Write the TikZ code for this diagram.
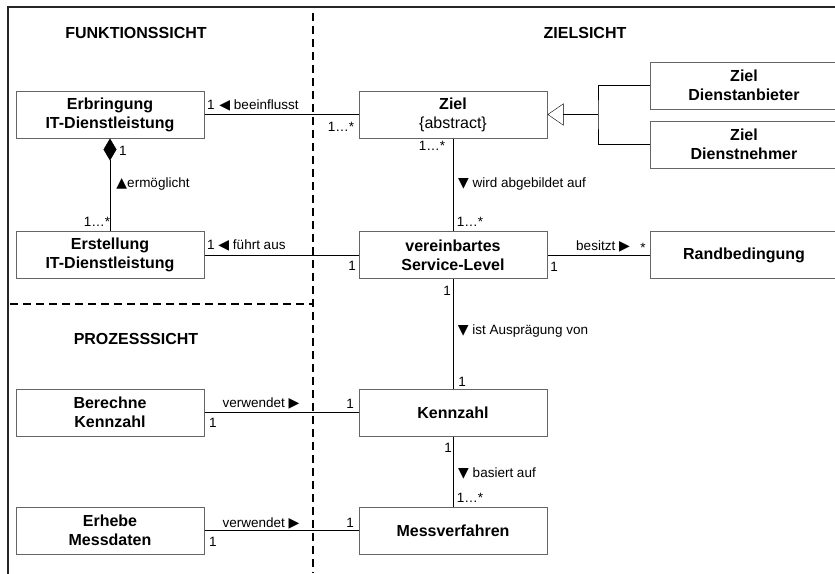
\documentclass[tikz,border=0pt]{standalone}
\usepackage{fontspec}
\setmainfont{Liberation Sans}
\newfontfamily\symfont{DejaVu Sans}
\usepackage{tikz}
\usetikzlibrary{arrows.meta}
\definecolor{rahmen}{gray}{0.4}
\def\pfeilL{{\symfont\fontsize{14}{15}\selectfont ◀}}
\def\pfeilR{{\symfont\fontsize{14}{15}\selectfont ▶}}
\def\pfeilO{{\symfont\fontsize{14}{15}\selectfont ▲}}
\def\pfeilU{{\symfont\fontsize{14}{15}\selectfont ▼}}
\tikzset{
klasse/.style={draw=rahmen, line width=1pt, minimum width=188pt, minimum height=47pt,
  inner sep=0pt, align=center, font=\fontsize{16}{19}\selectfont\bfseries},
rolle/.style={inner sep=0pt, font=\fontsize{13.5}{15}\selectfont},
sicht/.style={inner sep=0pt, font=\fontsize{16}{19}\selectfont\bfseries},
trenner/.style={line width=2pt, dash pattern=on 8pt off 5pt},
}

\begin{document}
\begin{tikzpicture}[x=1pt,y=-1pt]
\useasboundingbox (0,0) rectangle (835,573);
\draw[line width=2pt, black!85] (8,7) rectangle (900,620);
\draw[trenner] (313,13) -- (313,573);
\draw[trenner] (10,304) -- (313,304);

\node[sicht] (funktion) at (136,33) {FUNKTIONSSICHT};
\node[sicht] (zielsicht) at (585,33) {ZIELSICHT};
\node[sicht] (prozess) at (136,339) {PROZESSSICHT};

\node[klasse] (erbringung) at (110,114.5) {Erbringung\\IT-Dienstleistung};
\node[klasse] (ziel) at (453,114.5) {Ziel\\{\mdseries\{abstract\}}};
\node[klasse] (anbieter) at (744,85.5) {Ziel\\Dienstanbieter};
\node[klasse] (nehmer) at (744,144.5) {Ziel\\Dienstnehmer};
\node[klasse] (erstellung) at (110,255) {Erstellung\\IT-Dienstleistung};
\node[klasse] (level) at (453,255) {vereinbartes\\Service-Level};
\node[klasse] (rand) at (744,255) {Randbedingung};
\node[klasse] (berechne) at (110,412.5) {Berechne\\Kennzahl};
\node[klasse] (kennzahl) at (453,412.5) {Kennzahl};
\node[klasse] (erhebe) at (110,530.5) {Erhebe\\Messdaten};
\node[klasse] (mess) at (453,530.5) {Messverfahren};

\coordinate (gen) at (598,114.5);
\draw (anbieter.west) -| (gen) |- (nehmer.west);
\draw[-{Triangle[open,length=16pt,width=22pt]}] (gen) -- (ziel.east);

\draw (erbringung) -- (ziel);
\draw[{Diamond[length=22pt,width=13pt]}-] (erbringung) -- (erstellung);
\draw (ziel) -- (level);
\draw (erstellung) -- (level);
\draw (level) -- (rand);
\draw (level) -- (kennzahl);
\draw (berechne) -- (kennzahl);
\draw (kennzahl) -- (mess);
\draw (erhebe) -- (mess);

\node[rolle] (m1) at (211,105) {1};
\node[rolle] (r1) at (259,105) {\pfeilL\ beeinflusst};
\node[rolle] (m2) at (341,127) {1\dots*};
\node[rolle] (m3) at (123,151) {1};
\node[rolle] (r2) at (153,184) {\pfeilO ermöglicht};
\node[rolle] (m4) at (97,222) {1\dots*};
\node[rolle] (m5) at (432,146) {1\dots*};
\node[rolle] (r3) at (522,184) {\pfeilU\ wird abgebildet auf};
\node[rolle] (m6) at (470,222) {1\dots*};
\node[rolle] (m7) at (211,245) {1};
\node[rolle] (r4) at (252,245) {\pfeilL\ führt aus};
\node[rolle] (m8) at (352,266) {1};
\node[rolle] (r5) at (603,246) {besitzt \pfeilR};
\node[rolle] (m9) at (643,248) {*};
\node[rolle] (m10) at (554,267) {1};
\node[rolle] (m11) at (447,291) {1};
\node[rolle] (r6) at (523,331) {\pfeilU\ ist Ausprägung von};
\node[rolle] (m12) at (462,382) {1};
\node[rolle] (r7) at (261,403) {verwendet \pfeilR};
\node[rolle] (m13) at (213,423) {1};
\node[rolle] (m14) at (350,404) {1};
\node[rolle] (m15) at (448,448) {1};
\node[rolle] (r8) at (497,473) {\pfeilU\ basiert auf};
\node[rolle] (m16) at (470,498) {1\dots*};
\node[rolle] (r9) at (261,523) {verwendet \pfeilR};
\node[rolle] (m17) at (213,542) {1};
\node[rolle] (m18) at (350,523) {1};
\end{tikzpicture}
\end{document}
